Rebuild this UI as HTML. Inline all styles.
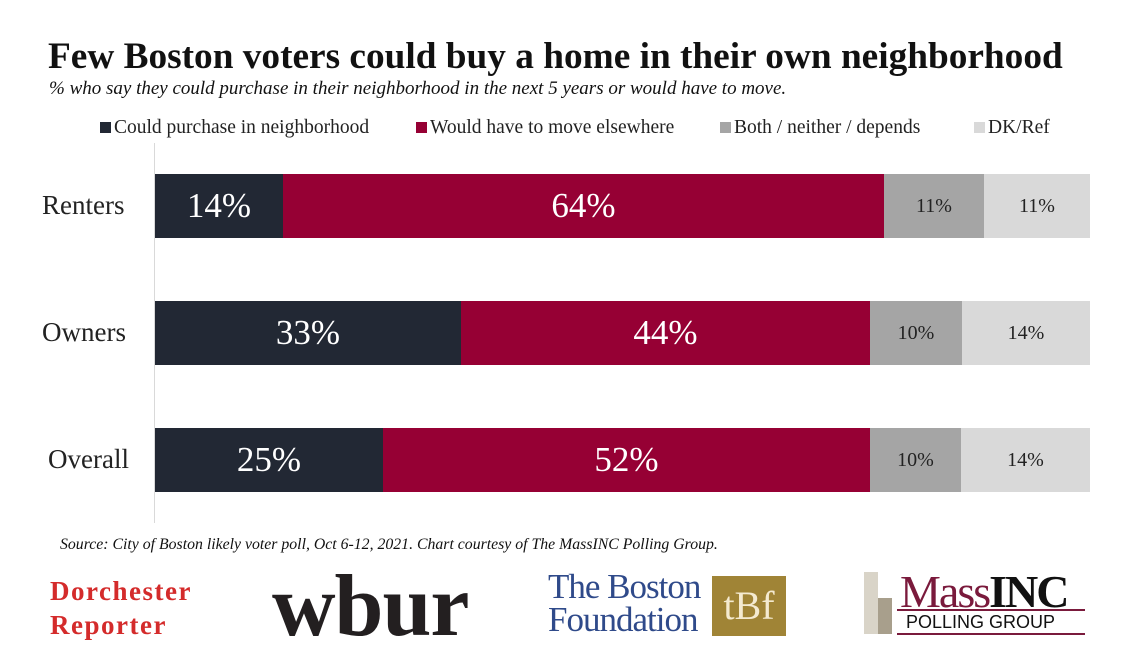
<!DOCTYPE html>
<html><head><style>
body{margin:0;background:#fff;width:1129px;height:670px;overflow:hidden;position:relative;font-family:"Liberation Serif",serif}
.a{position:absolute;white-space:nowrap}
.b{position:absolute;height:64px;display:flex;align-items:center;justify-content:center;color:#fff;font-size:35px}
.s{font-size:20px;color:#222}
.lg{position:absolute;white-space:nowrap;top:117px;font-size:19.5px;color:#222}
.lg span{display:inline-block;width:11px;height:11px;margin-right:3px}
</style></head><body>
<div class="a" style="left:48px;top:35px;font-size:37.3px;font-weight:bold;color:#111">Few Boston voters could buy a home in their own neighborhood</div>
<div class="a" style="left:49px;top:78px;font-size:19px;font-style:italic;color:#111">% who say they could purchase in their neighborhood in the next 5 years or would have to move.</div>
<div class="lg" style="left:100px"><span style="background:#222834"></span>Could purchase in neighborhood</div>
<div class="lg" style="left:416px"><span style="background:#960034"></span>Would have to move elsewhere</div>
<div class="lg" style="left:720px"><span style="background:#a5a5a5"></span>Both / neither / depends</div>
<div class="lg" style="left:974px"><span style="background:#d9d9d9"></span>DK/Ref</div>
<div class="a" style="left:154px;top:143px;width:1px;height:380px;background:#d9d9d9"></div>
<div class="a" style="left:42px;top:190px;font-size:27px;color:#222">Renters</div>
<div class="a" style="left:42px;top:317px;font-size:27px;color:#222">Owners</div>
<div class="a" style="left:48px;top:444px;font-size:27px;color:#222">Overall</div>
<div class="b" style="left:155px;top:174px;width:128px;background:#222834">14%</div>
<div class="b" style="left:283px;top:174px;width:601px;background:#960034">64%</div>
<div class="b s" style="left:884px;top:174px;width:100px;background:#a5a5a5">11%</div>
<div class="b s" style="left:984px;top:174px;width:106px;background:#d9d9d9">11%</div>
<div class="b" style="left:155px;top:301px;width:306px;background:#222834">33%</div>
<div class="b" style="left:461px;top:301px;width:409px;background:#960034">44%</div>
<div class="b s" style="left:870px;top:301px;width:92px;background:#a5a5a5">10%</div>
<div class="b s" style="left:962px;top:301px;width:128px;background:#d9d9d9">14%</div>
<div class="b" style="left:155px;top:428px;width:228px;background:#222834">25%</div>
<div class="b" style="left:383px;top:428px;width:487px;background:#960034">52%</div>
<div class="b s" style="left:870px;top:428px;width:91px;background:#a5a5a5">10%</div>
<div class="b s" style="left:961px;top:428px;width:129px;background:#d9d9d9">14%</div>
<div class="a" style="left:60px;top:536px;font-size:15.8px;font-style:italic;color:#111">Source: City of Boston likely voter poll, Oct 6-12, 2021. Chart courtesy of The MassINC Polling Group.</div>
<div class="a" style="left:50px;top:574px;font-size:27px;font-weight:bold;color:#d42b2b;line-height:34px;letter-spacing:1.5px">Dorchester<br>Reporter</div>
<div class="a" style="left:272px;top:556px;font-size:88px;font-weight:bold;color:#231f20;letter-spacing:-1px">wbur</div>
<div class="a" style="left:548px;top:570px;font-size:35px;color:#2f4a8a;line-height:33px;letter-spacing:-1px">The Boston<br>Foundation</div>
<div class="a" style="left:712px;top:576px;width:74px;height:60px;background:#a08436;color:#f4ead0;font-size:40px;text-align:center;line-height:60px">tBf</div>
<div class="a" style="left:864px;top:572px;width:14px;height:62px;background:#d9d4c8"></div>
<div class="a" style="left:878px;top:598px;width:14px;height:36px;background:#a89f8c"></div>
<div class="a" style="left:900px;top:565px;font-size:46px;color:#7a1a3c;letter-spacing:-2px">Mass<b style="color:#111">INC</b></div>
<div class="a" style="left:897px;top:609px;width:188px;height:2px;background:#7a1a3c"></div>
<div class="a" style="left:906px;top:612px;font-size:18px;color:#111;font-family:'Liberation Sans',sans-serif">POLLING GROUP</div>
<div class="a" style="left:897px;top:633px;width:188px;height:2px;background:#7a1a3c"></div>
</body></html>
